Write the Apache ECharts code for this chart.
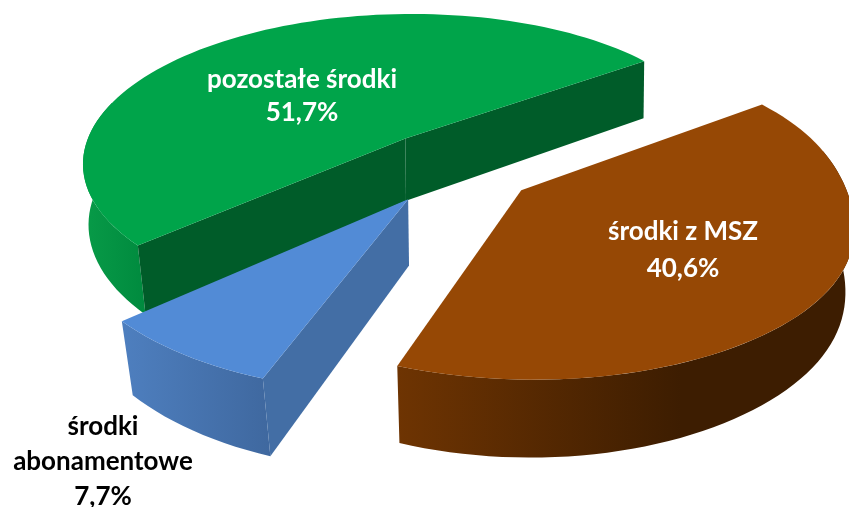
<!DOCTYPE html>
<html><head><meta charset="utf-8">
<style>html,body{margin:0;padding:0;background:#fff}#c{width:849px;height:507px}</style>
<script src="https://cdn.jsdelivr.net/npm/echarts@6/dist/echarts.min.js"></script>
</head><body><div id="c"></div>
<script>
const categories = ['pozostałe środki', 'środki\nabonamentowe', 'środki z MSZ'];
const values = [51.7, 7.7, 40.6];
const topColors = ['#00a44a', '#528bd6', '#964805'];
const cutColors = ['#005c29', '#436ea5', '#5a2c03'];
const wallStart = ['#089b48', '#4e7fbf', '#6e3402'];
const wallEnd = ['#008a3e', '#3f689f', '#3d1d01'];
const labelColors = ['#ffffff', '#000000', '#ffffff'];

// view set-up
const CX = 455, CY = 167, R = 327, TILT = 0.465, PERSP = 0.155, EXPLODE = 0.248, DEPTH = 64, START = 36, RIGHT_PINCH = 0.028;
const LABEL_AT = [[302, 96], [103, 462], [683, 250]];
const LABEL_LINE = [33, 35, 37];
const total = values.reduce((a, b) => a + b, 0);
let acc = START;
const spans = values.map(v => { const a0 = acc; acc += v / total * 360; return [a0, acc]; });
const rad = d => d * Math.PI / 180;

function project(u, v, bottom) {
  const s = 1 / (1 + PERSP * v);
  const k = bottom ? 1 - 0.11 * (s - 0.86) : 1;
  return [CX + R * u * s * k, CY - R * TILT * v * s + (bottom ? DEPTH * s : 0)];
}
function rimPoint(a, ox, oy, bottom) {
  const c = Math.cos(a), pinch = c > 0 ? 1 - RIGHT_PINCH * Math.pow(c, 8) : 1;
  return project(ox + c * pinch, oy + Math.sin(a), bottom);
}
function arcPts(a0, a1, ox, oy, bottom) {
  const n = Math.max(2, Math.ceil(Math.abs(a1 - a0) / 2)), out = [];
  for (let i = 0; i <= n; i++) {
    out.push(rimPoint(rad(a0 + (a1 - a0) * i / n), ox, oy, bottom));
  }
  return out;
}
function renderItem(params, api) {
  const i = api.value(0), children = [];
  const [a0, a1] = spans[i];
  const mid = rad((a0 + a1) / 2), ox = EXPLODE * Math.cos(mid), oy = EXPLODE * Math.sin(mid);
  const toPx = pts => pts.map(p => api.coord(p));
  const poly = (pts, fill) => ({ type: 'polygon', shape: { points: toPx(pts) }, style: { fill: fill, stroke: null } });
  const apexT = project(ox, oy, false), apexB = project(ox, oy, true);
  const wa0 = Math.max(a0, 165), wa1 = Math.min(a1, 375);
  const grad = { type: 'linear', x: 0, y: 0, x2: 1, y2: 0,
    colorStops: [{ offset: 0, color: wallStart[i] }, { offset: i === 2 ? 0.62 : 1, color: wallEnd[i] }, { offset: 1, color: wallEnd[i] }] };
  if (wa1 > wa0) {
    children.push(poly(arcPts(wa0, wa1, ox, oy, false).concat(arcPts(wa1, wa0, ox, oy, true)), grad));
  }
  // cut faces that look toward the viewer
  const endT = a => rimPoint(rad(a), ox, oy, false);
  const endB = a => rimPoint(rad(a), ox, oy, true);
  if (i === 0) {
    children.push(poly([apexT, endT(a0), endB(a0), apexB], cutColors[i]));
    children.push(poly([apexT, endT(a1), endB(a1), apexB], cutColors[i]));
  }
  if (i === 1) {
    children.push(poly([apexT, endT(a1), endB(a1), apexB], cutColors[i]));
  }
  children.push(poly([apexT].concat(arcPts(a0, a1, ox, oy, false)), topColors[i]));
  return { type: 'group', children: children };
}
function renderLabel(params, api) {
  const i = api.value(0);
  const p = api.coord(LABEL_AT[i]);
  return { type: 'text', x: p[0], y: p[1], style: {
    text: categories[i] + '\n' + values[i].toFixed(1).replace('.', ',') + '%',
    fill: labelColors[i], font: 'bold 26px Lato', lineHeight: LABEL_LINE[i], align: 'center', verticalAlign: 'middle' } };
}
const rows = values.map((v, i) => [i, v]);
const chart = echarts.init(document.getElementById('c'));
chart.setOption({
  animation: false,
  backgroundColor: '#ffffff',
  grid: { left: 0, right: 0, top: 0, bottom: 0 },
  xAxis: { type: 'value', min: 0, max: 849, show: false },
  yAxis: { type: 'value', min: 0, max: 507, inverse: true, show: false },
  series: [
    { type: 'custom', renderItem: renderItem, data: rows, clip: false, silent: true, encode: { x: 0, y: 1 } },
    { type: 'custom', renderItem: renderLabel, data: rows, clip: false, silent: true, z: 5, encode: { x: 0, y: 1 } }
  ]
});
</script></body></html>
